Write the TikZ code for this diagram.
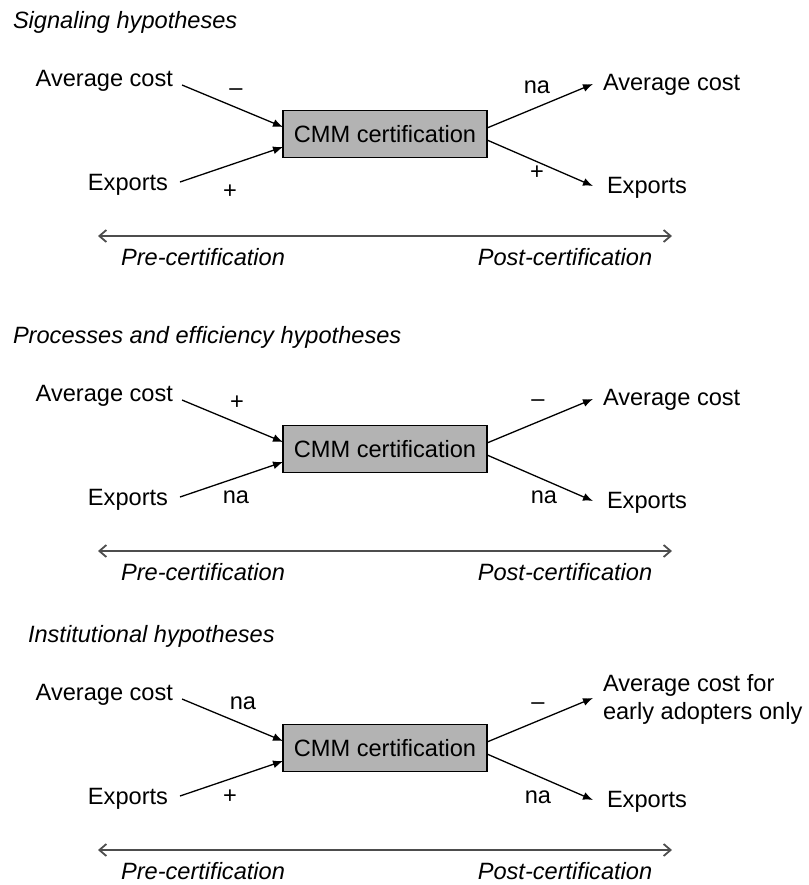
\documentclass[tikz,border=0pt]{standalone}
\usepackage{fontspec}
\setmainfont{Liberation Sans}
\usetikzlibrary{arrows.meta,calc}
\definecolor{boxgray}{HTML}{B3B3B3}
\definecolor{linegray}{HTML}{4D4D4D}
\tikzset{
  every node/.style={inner sep=0pt, outer sep=0pt, font=\fontsize{11.8}{14}\selectfont},
  ttl/.style={anchor=base west, font=\fontsize{11.8}{14}\selectfont\itshape},
  certbox/.style={draw, line width=0.8pt, fill=boxgray, minimum width=102pt, minimum height=23.5pt},
  conn/.style={line width=0.65pt, -{Latex[length=5pt,width=4pt]}},
  timeline/.style={draw=linegray, line width=0.9pt, {Straight Barb[length=3.5pt,width=6pt]}-{Straight Barb[length=3.5pt,width=6pt]}},
  phase/.style={anchor=base, font=\fontsize{11.8}{14}\selectfont\itshape},
  sign/.style={anchor=center}
}
% #1 suffix, #2 y offset, #3 title x, #4 title, #5 right-top text
\newcommand\hypanel[5]{%
  \node[ttl] (title#1) at (#3,{28+#2}) {#4};
  \node[anchor=base east] (ul#1) at (173,{86+#2}) {Average cost};
  \node[anchor=base east] (ll#1) at (168,{190+#2}) {Exports};
  \node[certbox] (box#1) at (385,{134+#2}) {CMM certification};
  \node[anchor=west, align=left] (ur#1) at (603,{85+#2}) {#5};
  \node[anchor=base west] (lr#1) at (607,{193+#2}) {Exports};
  \draw[conn] ($(ul#1.base east)+(9,-1)$) -- ($(box#1.west)+(0,-7)$);
  \draw[conn] ($(ll#1.base east)+(12,-8)$) -- ($(box#1.west)+(0,13)$);
  \draw[conn] ($(box#1.east)+(0,-6)$) -- ($(ur#1.west)+(-10,-1)$);
  \draw[conn] ($(box#1.east)+(0,6)$) -- ($(lr#1.base west)+(-14,-7)$);
  \coordinate (tl#1) at (98,{236+#2});
  \coordinate (tr#1) at (672,{236+#2});
  \draw[timeline] (tl#1) -- (tr#1);
  \node[phase] (pre#1) at (203,{265+#2}) {Pre-certification};
  \node[phase] (post#1) at (565,{265+#2}) {Post-certification};
}
\begin{document}
\begin{tikzpicture}[x=0.5pt, y=-0.5pt]
  \useasboundingbox (0,0) rectangle (809,885);
  % Panel 1
  \hypanel{a}{0}{13}{Signaling hypotheses}{Average cost}
  \node[sign] (sa1) at (236,92) {\textendash};
  \node[sign] (sa2) at (230,192) {+};
  \node[sign] (sa3) at (537,87) {na};
  \node[sign] (sa4) at (537,173) {+};
  % Panel 2
  \hypanel{b}{315}{13}{Processes and efficiency hypotheses}{Average cost}
  \node[sign] (sb1) at (237,403) {+};
  \node[sign] (sb2) at (236,497) {na};
  \node[sign] (sb3) at (538,403) {\textendash};
  \node[sign] (sb4) at (544,497) {na};
  % Panel 3
  \hypanel{c}{614}{28}{Institutional hypotheses}{Average cost for\\early adopters only}
  \node[sign] (sc1) at (243,703) {na};
  \node[sign] (sc2) at (230,797) {+};
  \node[sign] (sc3) at (538,706) {\textendash};
  \node[sign] (sc4) at (538,797) {na};
\end{tikzpicture}
\end{document}
